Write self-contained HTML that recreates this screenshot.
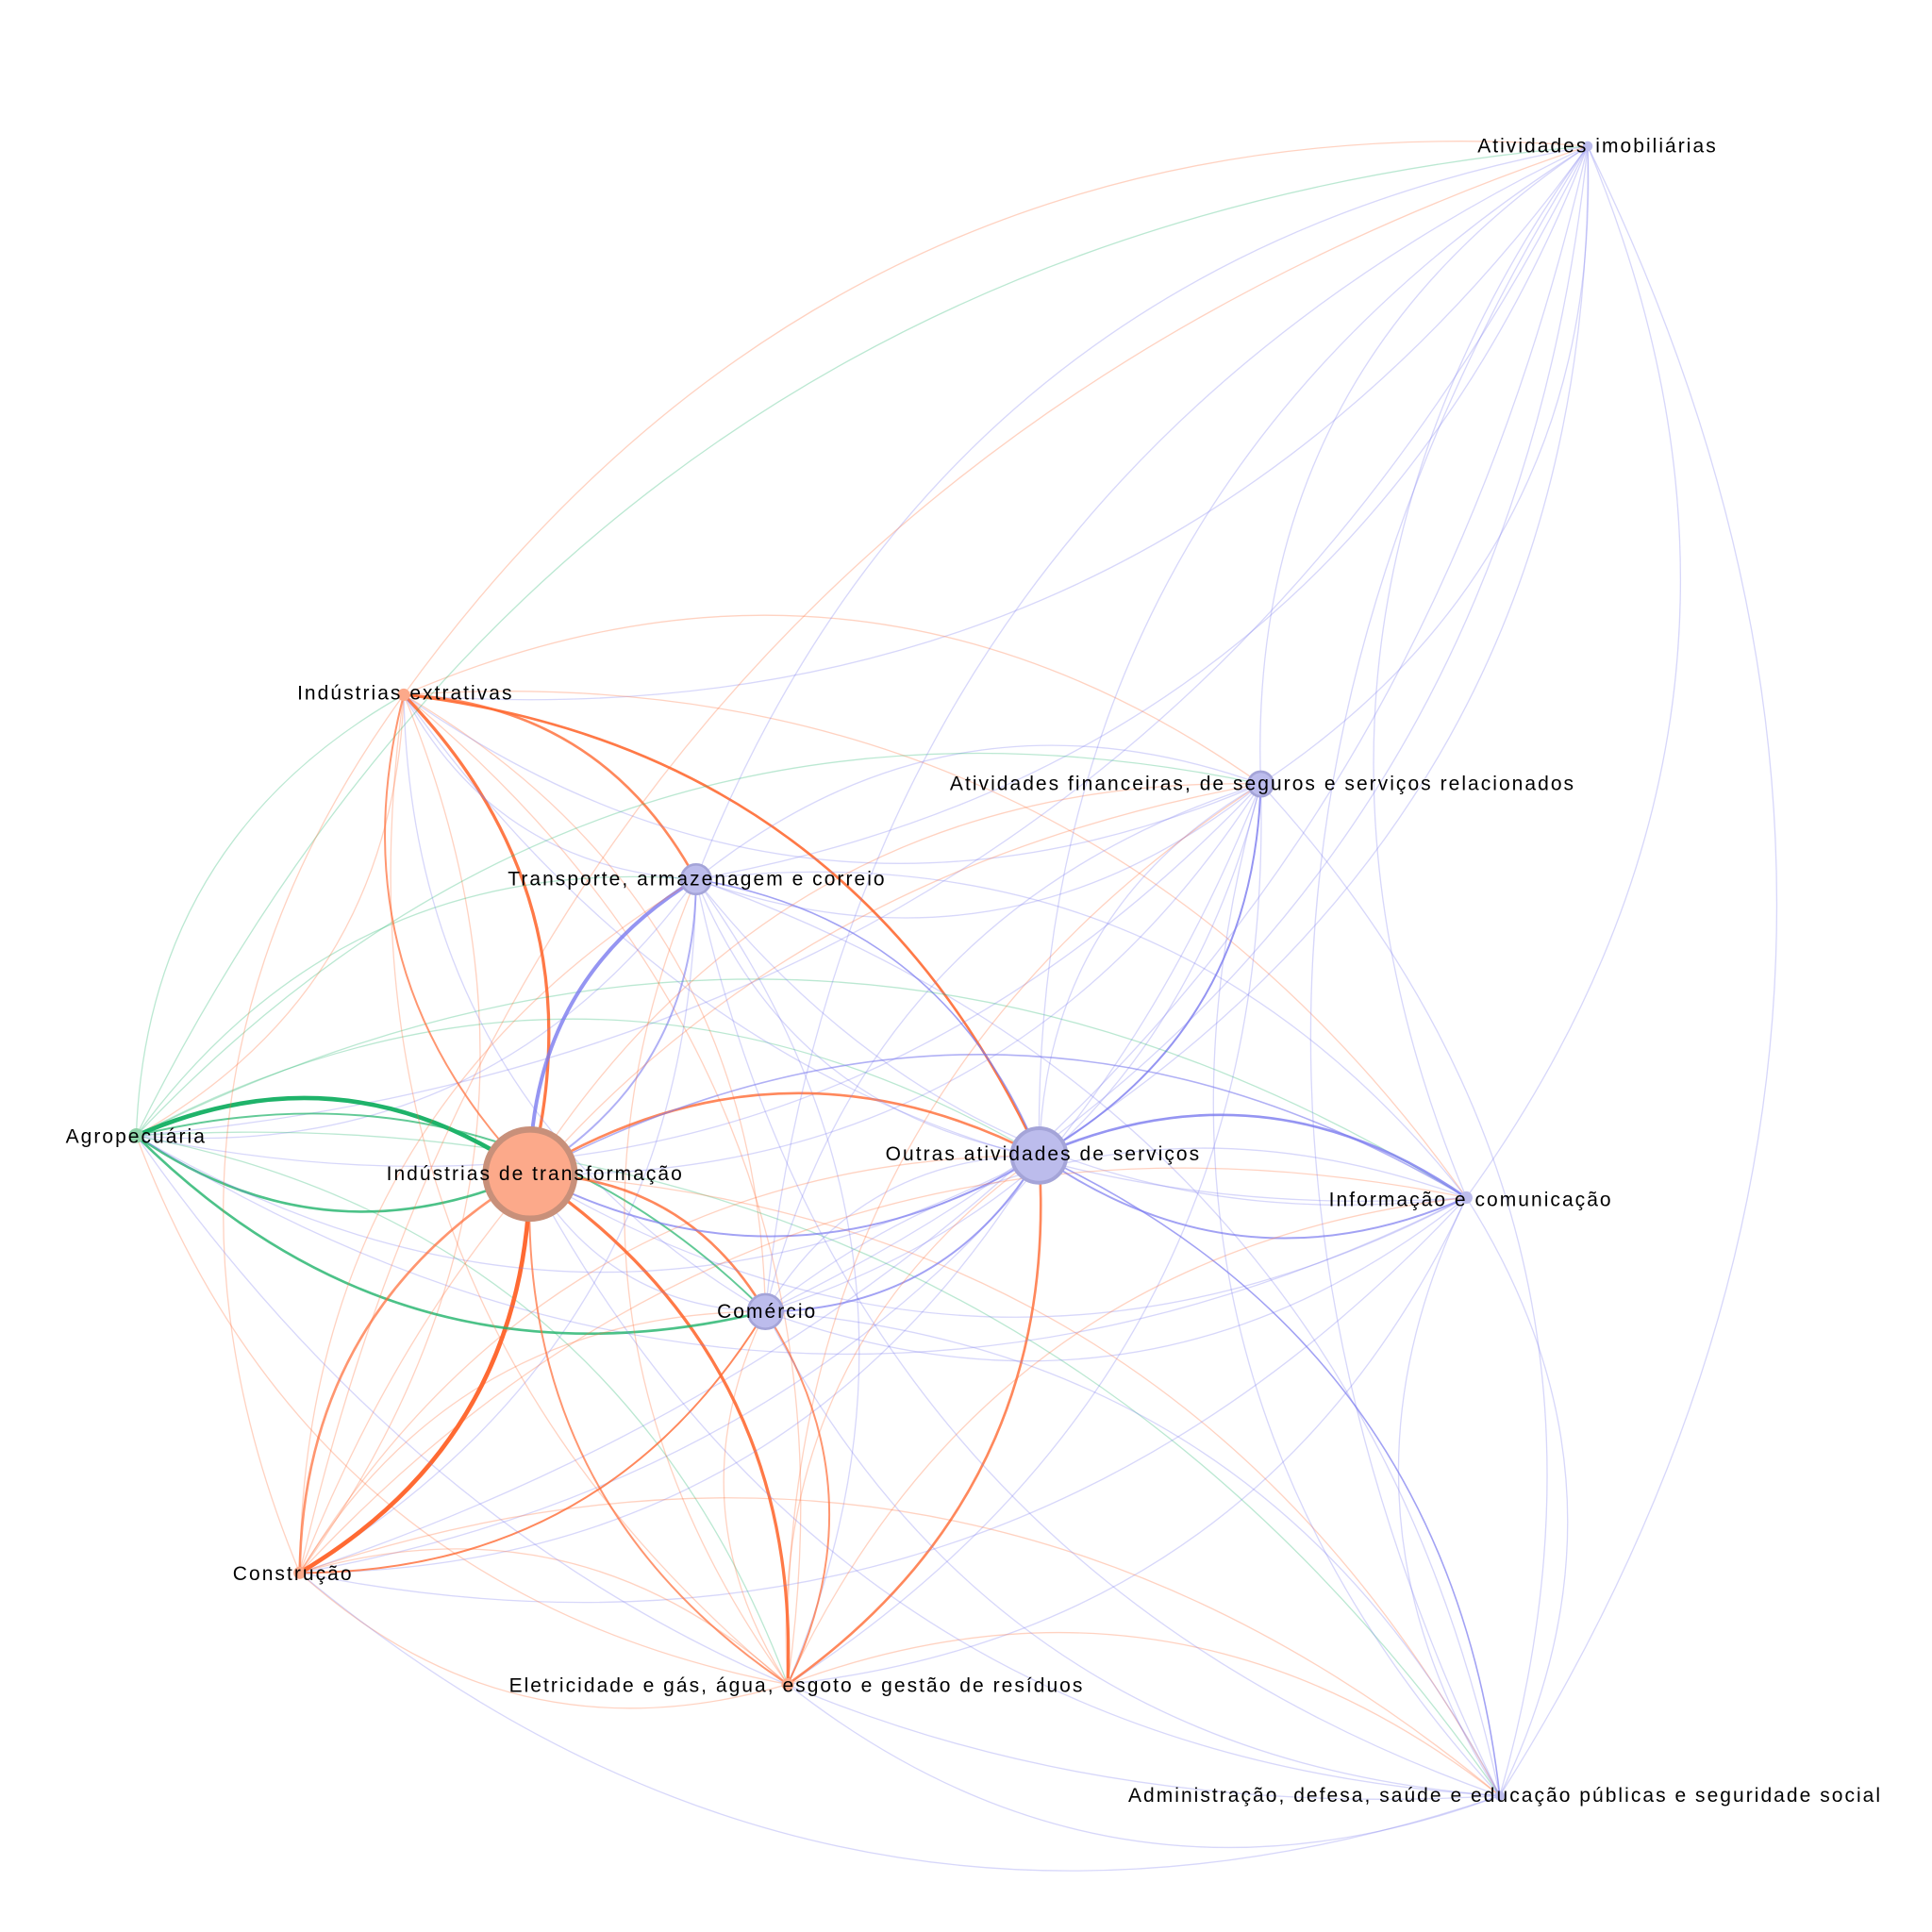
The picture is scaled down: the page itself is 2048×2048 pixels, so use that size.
<!DOCTYPE html>
<html><head><meta charset="utf-8"><style>
html,body{margin:0;padding:0;background:#fff}
svg{display:block}
text{font-family:"Liberation Sans",sans-serif;font-size:16px;fill:#000;letter-spacing:1.55px}
</style></head><body>
<svg id="s" width="2048" height="2048" viewBox="0 0 1560 1560" xmlns="http://www.w3.org/2000/svg">
<g id="e" fill="none"></g>
<g id="n"></g>
<g id="t">
<text x="1193" y="123">Atividades imobiliárias</text>
<text x="240" y="565">Indústrias extrativas</text>
<text x="767" y="638">Atividades financeiras, de seguros e serviços relacionados</text>
<text x="410" y="715">Transporte, armazenagem e correio</text>
<text x="53" y="923">Agropecuária</text>
<text x="312" y="953">Indústrias de transformação</text>
<text x="715" y="937">Outras atividades de serviços</text>
<text x="1073" y="974">Informação e comunicação</text>
<text x="579" y="1064">Comércio</text>
<text x="188" y="1276">Construção</text>
<text x="411" y="1366">Eletricidade e gás, água, esgoto e gestão de resíduos</text>
<text x="911" y="1455">Administração, defesa, saúde e educação públicas e seguridade social</text>
</g>
</svg>
<script>
var N={
imob:[1282,118,'b'],ext:[326,561,'o'],fin:[1018,633,'b'],tra:[562,710,'b'],agro:[110,917,'g'],
trf:[428,948,'o'],out:[839,933,'b'],inf:[1184,967,'b'],com:[618,1059,'b'],con:[242,1270,'o'],ele:[636,1360,'o'],adm:[1211,1450,'b']};
var C={o:'#ff6a33',g:'#1fb36a',b:'#7b7bef'};
var keys=Object.keys(N);
var strong={
'agro-trf':[3.5,1,'g'],'trf-agro':[2,0.8,'g'],'trf-con':[3.5,1,'o'],'con-trf':[2,0.7,'o'],'trf-tra':[3,0.8,'b'],'tra-trf':[1.5,0.6,'b'],
'ext-trf':[2.5,0.9,'o'],'trf-ext':[1.5,0.7,'o'],'ext-out':[2,0.9,'o'],'trf-ele':[2.5,0.9,'o'],'ele-trf':[1.5,0.7,'o'],'ext-tra':[2,0.8,'o'],
'com-agro':[2,0.8,'g'],'agro-com':[1.5,0.7,'g'],'trf-com':[2,0.8,'o'],'trf-out':[2,0.8,'o'],'out-inf':[2,0.8,'b'],'inf-out':[1.5,0.7,'b'],
'fin-out':[1.5,0.8,'b'],'out-ele':[2,0.8,'o'],'com-con':[1.5,0.8,'o'],'out-trf':[1.5,0.7,'b'],'out-com':[1.5,0.7,'b'],'com-ele':[1.5,0.7,'o'],
'out-adm':[1.2,0.7,'b'],'tra-out':[1.2,0.7,'b'],'trf-inf':[1.2,0.6,'b']};
var g=document.getElementById('e'),h='';
for(var i=0;i<keys.length;i++)for(var j=0;j<keys.length;j++){if(i==j)continue;
var a=N[keys[i]],b=N[keys[j]],k=keys[i]+'-'+keys[j];
var s=strong[k];var w=1,op=0.3,col=C[a[2]];
if(s){w=s[0];op=s[1];col=C[s[2]];}
else if((i*7+j*3)%5==0)continue;
var dx=b[0]-a[0],dy=b[1]-a[1];var mx=(a[0]+b[0])/2+dy*0.28,my=(a[1]+b[1])/2-dx*0.28;
h+='<path d="M'+a[0]+' '+a[1]+' Q'+mx+' '+my+' '+b[0]+' '+b[1]+'" stroke="'+col+'" stroke-width="'+w+'" stroke-opacity="'+op+'"/>';}
g.innerHTML=h;
var nodes='<circle cx="428" cy="948" r="36" fill="#fca98a" stroke="#c8907a" stroke-width="5"/>'+
'<circle cx="839" cy="933" r="22" fill="#bcbcec" stroke="#a4a4d8" stroke-width="3"/>'+
'<circle cx="618" cy="1059" r="14" fill="#bcbcec" stroke="#a4a4d8" stroke-width="2"/>'+
'<circle cx="562" cy="710" r="12" fill="#bcbcec" stroke="#a4a4d8" stroke-width="2"/>'+
'<circle cx="1018" cy="633" r="10" fill="#bcbcec" stroke="#a4a4d8" stroke-width="2"/>'+
'<circle cx="1184" cy="967" r="5" fill="#bcbcec"/><circle cx="1282" cy="118" r="4" fill="#bcbcec"/>'+
'<circle cx="1211" cy="1450" r="4" fill="#bcbcec"/><circle cx="326" cy="561" r="5" fill="#fca98a"/>'+
'<circle cx="110" cy="917" r="6" fill="#8fd4a8"/><circle cx="242" cy="1270" r="5" fill="#fca98a"/><circle cx="636" cy="1360" r="5" fill="#fca98a"/>';
document.getElementById('n').innerHTML=nodes;
</script>
</body></html>
